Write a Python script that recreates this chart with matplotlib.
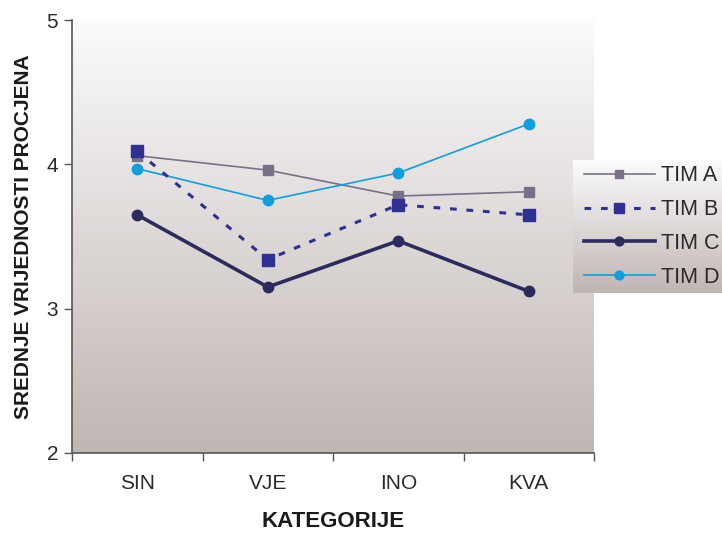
import numpy as np
import matplotlib
matplotlib.use("Agg")
import matplotlib.pyplot as plt
from matplotlib.colors import LinearSegmentedColormap

plt.rcParams['font.family'] = ['Liberation Sans', 'DejaVu Sans']

categories = ["SIN", "VJE", "INO", "KVA"]
tim_a = [4.06, 3.96, 3.78, 3.81]
tim_b = [4.09, 3.34, 3.72, 3.65]
tim_c = [3.65, 3.15, 3.47, 3.12]
tim_d = [3.97, 3.75, 3.94, 4.28]
y_ticks = [2, 3, 4, 5]

W, H = 722, 533
fig = plt.figure(figsize=(W / 100, H / 100), dpi=100)
ax = fig.add_axes([72 / W, 1 - 453 / H, (594 - 72) / W, (453 - 20) / H])

grad = LinearSegmentedColormap.from_list("bg", ["#fbfbfb", "#c0b6b3"])
g = np.linspace(0, 1, 256).reshape(-1, 1)
ax.imshow(g, cmap=grad, aspect="auto", extent=[0, 1, 0, 1],
          transform=ax.transAxes, zorder=0, interpolation="bicubic")

x = np.arange(len(categories))
ax.plot(x, tim_a, color="#7b7089", lw=1.2, marker="s", ms=6.5, label="TIM A", zorder=3)
ax.plot(x, tim_b, color="#2e3192", lw=2.2, ls=(0, (2.2, 3.2)), marker="s", ms=8, label="TIM B", zorder=4)
ax.plot(x, tim_c, color="#2b2b5e", lw=2.6, marker="o", ms=7.5, label="TIM C", zorder=3)
ax.plot(x, tim_d, color="#0d9fe0", lw=1.2, marker="o", ms=7.5, label="TIM D", zorder=3)

ax.set_xlim(-0.5, len(categories) - 0.5)
ax.set_ylim(2, 5)
ax.set_yticks(y_ticks)
ax.set_xticks(x)
ax.set_xticklabels(categories)
ax.set_xticks(np.arange(len(categories) + 1) - 0.5, minor=True)
ax.tick_params(axis="x", which="major", length=0, pad=15, labelsize=15, colors="#2a2a2a")
ax.tick_params(axis="x", which="minor", length=6, width=1, color="#555555", direction="out")
ax.tick_params(axis="y", length=6, width=1, color="#555555", direction="out", labelsize=15,
               pad=4, labelcolor="#2a2a2a")
for s in ["top", "right"]:
    ax.spines[s].set_visible(False)
for s in ["left", "bottom"]:
    ax.spines[s].set_color("#555555")
    ax.spines[s].set_linewidth(1.2)

ax.set_xlabel("KATEGORIJE", fontsize=16, fontweight="bold", labelpad=13, color="#1a1a1a")
ax.set_ylabel("SREDNJE VRIJEDNOSTI PROCJENA", fontsize=15, fontweight="bold", labelpad=10,
              color="#1a1a1a")

# legend panel with its own gradient
lax = fig.add_axes([573 / W, 1 - 293 / H, (W - 573) / W, (293 - 160) / H])
lax.imshow(g, cmap=grad, aspect="auto", extent=[0, 1, 0, 1], zorder=0)
lax.set_xlim(0, 1)
lax.set_ylim(0, 1)
lax.axis("off")
handles, labels = ax.get_legend_handles_labels()
leg = lax.legend(handles, labels, loc="center left", bbox_to_anchor=(0.0, 0.5),
                 frameon=False, fontsize=15.5, handlelength=3.3, handletextpad=0.3,
                 labelspacing=0.6, borderaxespad=0.1, markerscale=0.85)
for t in leg.get_texts():
    t.set_color("#2a2a2a")

fig.savefig("out.png", dpi=100)
